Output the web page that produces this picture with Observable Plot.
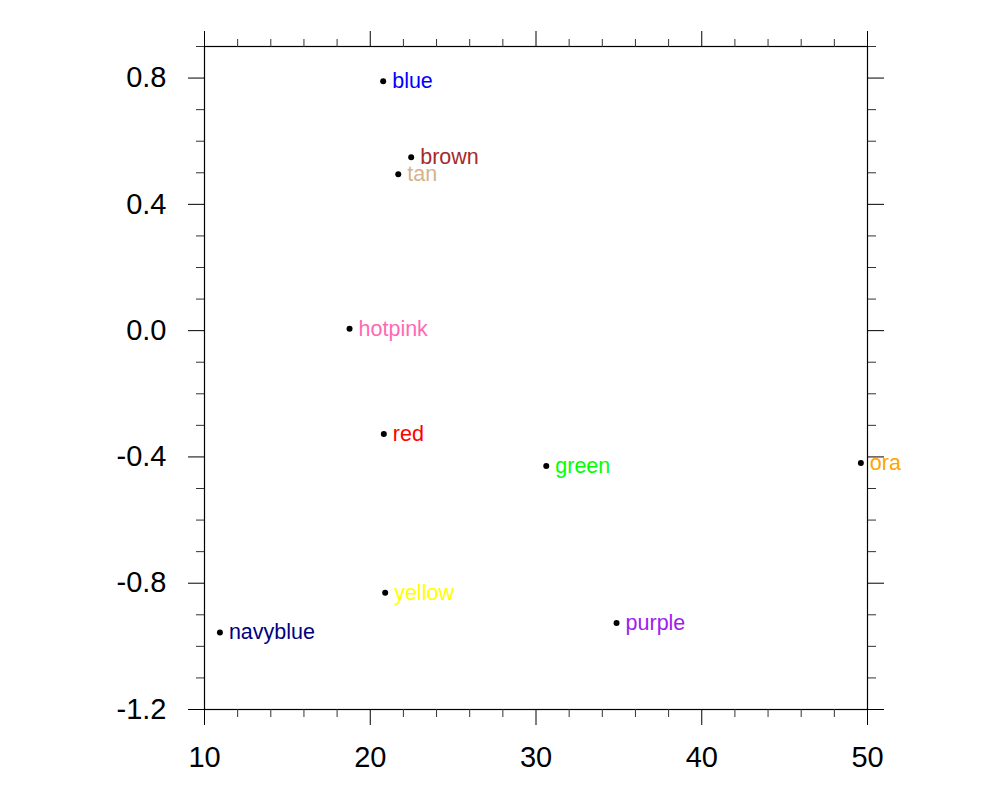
<!DOCTYPE html>
<html>
<head>
<meta charset="utf-8">
<script src="https://cdn.jsdelivr.net/npm/d3@7"></script>
<script src="https://cdn.jsdelivr.net/npm/@observablehq/plot@0.6"></script>
<style>
  html, body { margin: 0; padding: 0; background: #fff; }
  #chart { width: 1000px; height: 800px; }
</style>
</head>
<body>
<div id="chart"></div>
<script>
// Data
const names  = ["blue", "brown", "tan", "hotpink", "red", "green", "ora", "purple", "yellow", "navyblue"];
const xs     = [20.78, 22.47, 21.69, 18.75, 20.82, 30.62, 49.60, 34.86, 20.90, 10.93];
const ys     = [0.790, 0.549, 0.495, 0.006, -0.327, -0.429, -0.419, -0.926, -0.830, -0.956];
const colors = ["#0000ff", "#a52a2a", "#d2b48c", "#ff69b4", "#ff0000", "#00ff00", "#ffa500", "#a020f0", "#ffff00", "#000080"];

const xMajor = [10, 20, 30, 40, 50];
const xMinor = [12, 14, 16, 18, 22, 24, 26, 28, 32, 34, 36, 38, 42, 44, 46, 48];
const yMajor = [-1.2, -0.8, -0.4, 0.0, 0.4, 0.8];
const yMinor = [-1.1, -1.0, -0.9, -0.7, -0.6, -0.5, -0.3, -0.2, -0.1, 0.1, 0.2, 0.3, 0.5, 0.6, 0.7, 0.9];

const pts = names.map((n, i) => ({name: n, x: xs[i], y: ys[i], color: colors[i]}));
const font = "'Liberation Sans', Arial, Helvetica, sans-serif";
const blank = () => "";

const chart = Plot.plot({
  width: 1000,
  height: 800,
  marginLeft: 204,
  marginRight: 133,
  marginTop: 46,
  marginBottom: 91,
  style: {fontFamily: font, fontSize: "29px", color: "black", background: "white", overflow: "visible"},
  x: {domain: [10, 50], label: null},
  y: {domain: [-1.2, 0.9], label: null},
  marks: [
    Plot.frame({stroke: "black", strokeWidth: 1.2}),
    // bottom
    Plot.axisX(xMajor, {anchor: "bottom", tickSize: 16, tickPadding: 21, tickFormat: d => String(d), fontSize: 29, label: null, stroke: "black"}),
    Plot.axisX(xMinor, {anchor: "bottom", tickSize: 8, tickFormat: blank, label: null, stroke: "#333"}),
    // top
    Plot.axisX(xMajor, {anchor: "top", tickSize: 16, tickFormat: blank, label: null, stroke: "black"}),
    Plot.axisX(xMinor, {anchor: "top", tickSize: 8, tickFormat: blank, label: null, stroke: "#333"}),
    // left
    Plot.axisY(yMajor, {anchor: "left", tickSize: 16, tickPadding: 22, tickFormat: d => d.toFixed(1), fontSize: 29, label: null, stroke: "black"}),
    Plot.axisY(yMinor, {anchor: "left", tickSize: 8, tickFormat: blank, label: null, stroke: "#333"}),
    // right
    Plot.axisY(yMajor, {anchor: "right", tickSize: 16, tickFormat: blank, label: null, stroke: "black"}),
    Plot.axisY(yMinor, {anchor: "right", tickSize: 8, tickFormat: blank, label: null, stroke: "#333"}),
    // points and labels
    Plot.dot(pts, {x: "x", y: "y", r: 3, fill: "black", stroke: null}),
    Plot.text(pts, {x: "x", y: "y", text: "name", fill: d => d.color, textAnchor: "start", dx: 9, dy: 0, fontSize: 21.5, fontFamily: font})
  ]
});
document.getElementById("chart").appendChild(chart);
</script>
</body>
</html>
